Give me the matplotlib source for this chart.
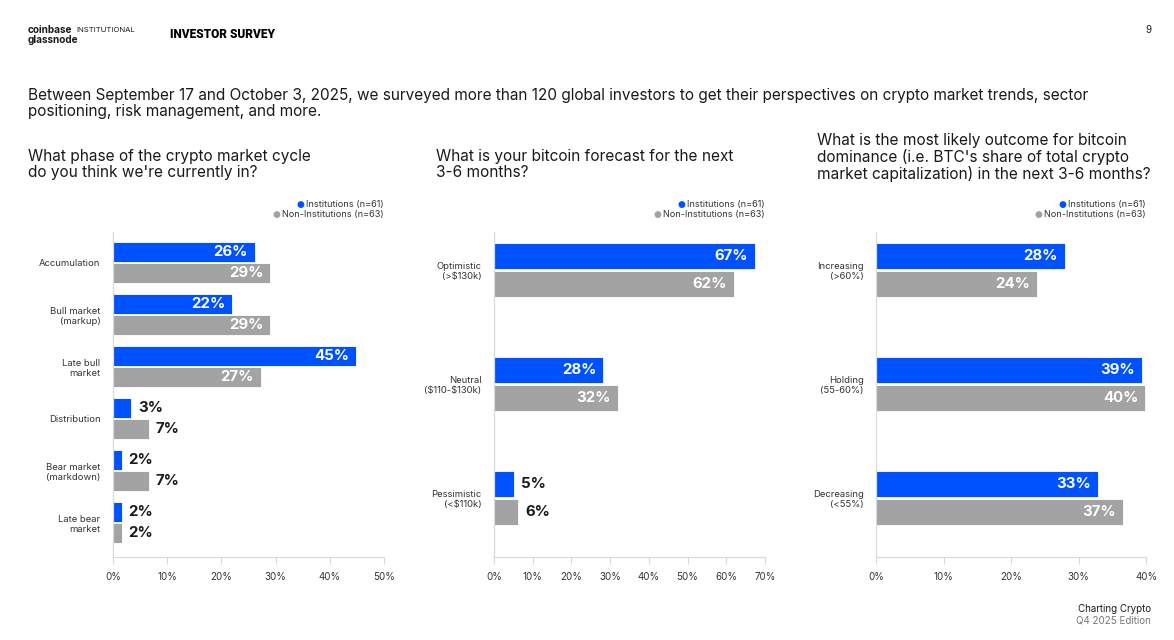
import matplotlib
matplotlib.use("Agg")
import matplotlib.pyplot as plt

plt.rcParams['font.family'] = ['Inter', 'DejaVu Sans']

BLUE = '#0052FF'
GRAY = '#A3A3A3'
AXIS = '#D5DADD'
TEXT = '#1A1A1A'

# ---- data ----
phase_cats = ['Accumulation', 'Bull market\n(markup)', 'Late bull\nmarket',
              'Distribution', 'Bear market\n(markdown)', 'Late bear\nmarket']
phase_inst = [26.2, 22.0, 44.9, 3.3, 1.6, 1.6]
phase_non = [29.0, 29.0, 27.3, 6.6, 6.6, 1.6]

forecast_cats = ['Optimistic\n(>\\$130k)', 'Neutral\n(\\$110-\\$130k)', 'Pessimistic\n(<\\$110k)']
forecast_inst = [67.4, 28.2, 5.2]
forecast_non = [62.0, 32.0, 6.3]

dom_cats = ['Increasing\n(>60%)', 'Holding\n(55-60%)', 'Decreasing\n(<55%)']
dom_inst = [28.0, 39.4, 32.9]
dom_non = [23.9, 39.9, 36.6]

titles = [
    "What phase of the crypto market cycle\ndo you think we're currently in?",
    "What is your bitcoin forecast for the next\n3-6 months?",
    "What is the most likely outcome for bitcoin\ndominance (i.e. BTC's share of total crypto\nmarket capitalization) in the next 3-6 months?",
]

W, H = 1174, 640
fig = plt.figure(figsize=(W / 100, H / 100), dpi=100)
fig.patch.set_facecolor('white')


def fx(px):
    return px / W


def fy(py):
    return 1 - py / H


legend_texts = []


def panel(x0, x1, cats, inst, non, xmax, step, ylim, off, bh):
    ax = fig.add_axes([fx(x0), fy(557), fx(x1 - x0), fy(232) - fy(557)])
    y = list(range(len(cats)))
    ax.barh([v - off for v in y], inst, height=bh, color=BLUE,
            edgecolor='white', linewidth=0.6)
    ax.barh([v + off for v in y], non, height=bh, color=GRAY,
            edgecolor='white', linewidth=0.6)
    for vals, sign in ((inst, -1), (non, 1)):
        for i, v in enumerate(vals):
            lbl = f"{round(v)}%"
            if v >= 10:
                ax.annotate(lbl, (v, i + sign * off), xytext=(-5, 0),
                            textcoords='offset points', ha='right', va='center',
                            color='white', fontsize=10.8, fontweight='bold')
            else:
                ax.annotate(lbl, (v, i + sign * off), xytext=(5, 0),
                            textcoords='offset points', ha='left', va='center',
                            color=TEXT, fontsize=10.8, fontweight='bold')
    ax.set_xlim(0, xmax)
    ax.set_ylim(*ylim)
    ax.set_xticks(range(0, xmax + 1, step))
    ax.set_xticklabels([f"{t}%" for t in range(0, xmax + 1, step)])
    ax.set_yticks(y)
    ax.set_yticklabels(cats, multialignment='right')
    ax.tick_params(axis='x', length=5, width=0.8, color=AXIS, labelsize=7,
                   labelcolor='#333333', pad=6)
    ax.tick_params(axis='y', length=0, labelsize=6.8, labelcolor='#333333', pad=9)
    for s in ('top', 'right'):
        ax.spines[s].set_visible(False)
    for s in ('left', 'bottom'):
        ax.spines[s].set_color(AXIS)
        ax.spines[s].set_linewidth(0.9)
    ax.set_facecolor('none')
    # legend
    t1 = fig.text(fx(x1), fy(204), 'Institutions (n=61)', ha='right', va='center',
                  fontsize=6.6, color='#333333')
    t2 = fig.text(fx(x1), fy(214.5), 'Non-Institutions (n=63)', ha='right', va='center',
                  fontsize=6.6, color='#333333')
    legend_texts.append((t1, BLUE, 204))
    legend_texts.append((t2, GRAY, 214.5))
    return ax


panel(113, 384, phase_cats, phase_inst, phase_non, 50, 10,
      (5.66, -0.59), 0.2, 0.385)
panel(494, 765, forecast_cats, forecast_inst, forecast_non, 70, 10,
      (2.52, -0.33), 0.122, 0.228)
panel(876, 1146, dom_cats, dom_inst, dom_non, 40, 10,
      (2.52, -0.33), 0.122, 0.228)

# legend dots, placed just left of each legend entry
renderer = fig.canvas.get_renderer()
for t, c, yy in legend_texts:
    bb = t.get_window_extent(renderer)
    fig.text(fx(bb.x0 - 6), fy(yy), '\u25CF', ha='center', va='center',
             fontsize=6.5, color=c, family='DejaVu Sans')

# titles
for x, ytop, t in zip((28, 436, 817), (149, 149, 133), titles):
    fig.text(fx(x), fy(ytop), t, ha='left', va='top', fontsize=11.1,
             color=TEXT, linespacing=1.08)

fig.text(fx(28), fy(88),
         "Between September 17 and October 3, 2025, we surveyed more than 120 global investors "
         "to get their perspectives on crypto market trends, sector\npositioning, risk management, and more.",
         ha='left', va='top', fontsize=11.05, color=TEXT, linespacing=1.12)

# header
fig.text(fx(28), fy(30), 'coinbase', ha='left', va='center', fontsize=7.2,
         fontweight='bold', color=TEXT)
fig.text(fx(76), fy(30), 'INSTITUTIONAL', ha='left', va='center', fontsize=5.6,
         color=TEXT)
fig.text(fx(28), fy(40), 'glassnode', ha='left', va='center', fontsize=7.2,
         fontweight='bold', color=TEXT)
fig.text(fx(170), fy(34), 'INVESTOR SURVEY', ha='left', va='center', fontsize=8.6,
         fontweight='black', color='black', family=['Roboto', 'DejaVu Sans'])
fig.text(fx(1151), fy(30), '9', ha='right', va='center', fontsize=7, color=TEXT)

# footer
fig.text(fx(1151), fy(609), 'Charting Crypto', ha='right', va='center',
         fontsize=7, color=TEXT)
fig.text(fx(1151), fy(621), 'Q4 2025 Edition', ha='right', va='center',
         fontsize=7, color='#777777')

fig.savefig('out.png', dpi=100, facecolor='white')
